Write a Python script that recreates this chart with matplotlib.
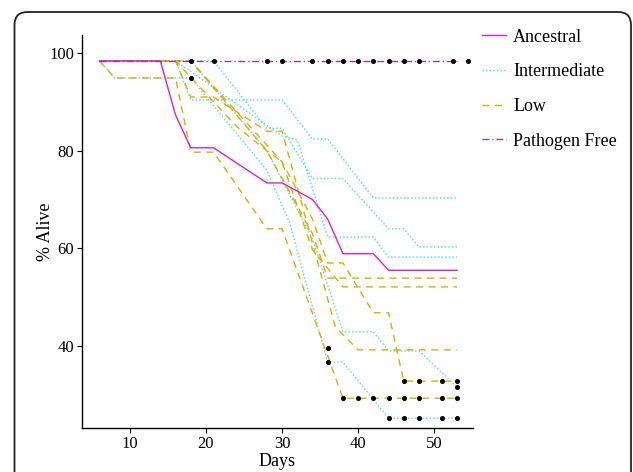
import numpy as np
import matplotlib
matplotlib.use("Agg")
import matplotlib.pyplot as plt
from matplotlib.patches import FancyBboxPatch
from matplotlib.lines import Line2D

plt.rcParams['font.family'] = ['Liberation Serif', 'DejaVu Serif']

# survival curves: (days, % alive)
anc_days = [6, 14, 16, 18, 21, 28, 30, 34, 36, 38, 42, 44, 53]
anc_vals = [98.4, 98.4, 87.3, 80.6, 80.6, 73.4, 73.4, 70.0, 66.0, 58.9, 58.9, 55.5, 55.5]

pf_days = [6, 53]
pf_vals = [98.4, 98.4]
pf_dot_days = [18, 21, 28, 30, 34, 36, 38, 40, 42, 44, 46, 48, 52.5, 54.5]
pf_dot_vals = [98.4] * 14

int_days = [
    [6, 16, 18, 30, 34, 36, 42, 53],
    [6, 21, 28, 30, 34, 38, 44, 46, 48, 53],
    [6, 16, 30, 32, 36, 42, 44, 53],
    [6, 18, 28, 34, 38, 42, 44, 48, 53],
    [6, 8, 18, 28, 31, 36, 38, 44, 53],
]
int_vals = [
    [98.4, 98.4, 90.4, 90.4, 82.4, 82.4, 70.3, 70.3],
    [98.4, 98.4, 84.6, 84.6, 74.3, 74.3, 64.0, 64.0, 60.3, 60.3],
    [98.4, 98.4, 83.0, 82.2, 62.3, 62.3, 58.2, 58.2],
    [98.4, 98.4, 80.0, 62.0, 42.9, 42.9, 39.0, 39.0, 31.6],
    [98.4, 94.9, 94.9, 76.0, 65.2, 36.7, 36.7, 25.2, 25.2],
]

low_days = [
    [6, 8, 16, 18, 21, 28, 30, 38, 53],
    [6, 18, 28, 34, 36, 53],
    [6, 16, 24, 28, 30, 34, 38, 53],
    [6, 16, 18, 21, 28, 30, 37, 40, 53],
    [6, 18, 24, 30, 34, 36, 38, 42, 44, 46, 53],
]
low_vals = [
    [98.4, 94.9, 94.9, 79.7, 79.7, 64.0, 64.0, 29.3, 29.3],
    [98.4, 98.4, 80.0, 63.0, 53.9, 53.9],
    [98.4, 98.4, 85.0, 80.0, 77.7, 59.7, 52.1, 52.1],
    [98.4, 98.4, 91.0, 91.0, 84.0, 84.0, 43.9, 39.2, 39.2],
    [98.4, 98.4, 88.0, 77.7, 66.0, 57.0, 57.0, 46.8, 46.8, 32.8, 32.8],
]

# censoring marks
dot_days = [18, 36, 36, 44, 46, 48, 51, 53, 53,
            38, 40, 42, 44, 46, 48, 51, 53,
            46, 48, 51, 53]
dot_vals = [94.9, 39.6, 36.7, 25.2, 25.2, 25.2, 25.2, 25.2, 31.6,
            29.3, 29.3, 29.3, 29.3, 29.3, 29.3, 29.3, 29.3,
            32.8, 32.8, 32.8, 32.8]

c_anc = '#E41EC0'
c_int = '#48E0C8'
c_low = '#E0AC00'
c_pf = '#9A3A9E'

fig = plt.figure(figsize=(6.33, 4.72), dpi=100)
ax = fig.add_axes([82/633, 1-428/472, (473-82)/633, (428-35)/472])

for d, v in zip(int_days, int_vals):
    ax.plot(d, v, color=c_int, lw=1.0, ls=(0, (1, 1.6)))
for d, v in zip(low_days, low_vals):
    ax.plot(d, v, color=c_low, lw=1.0, ls=(0, (5, 4)))
ax.plot(anc_days, anc_vals, color=c_anc, lw=1.0)
ax.plot(pf_days, pf_vals, color=c_pf, lw=1.0, ls=(0, (5, 2, 1, 2)))
ax.plot(pf_dot_days, pf_dot_vals, 'o', color='black', ms=2.6, clip_on=False)
ax.plot(dot_days, dot_vals, 'o', color='black', ms=2.6)

ax.set_xlim(3.7, 55.1)
ax.set_ylim(23.2, 103.7)
ax.set_xticks([10, 20, 30, 40, 50])
ax.set_yticks([40, 60, 80, 100])
for s in ['top', 'right']:
    ax.spines[s].set_visible(False)
for s in ['left', 'bottom']:
    ax.spines[s].set_linewidth(1.0)
ax.tick_params(length=3.5, width=0.8, labelsize=12, colors='black', pad=2)
ax.set_xlabel('Days', fontsize=13, labelpad=1)
ax.set_ylabel('% Alive', fontsize=13, labelpad=-3)

handles = [
    Line2D([], [], color=c_anc, lw=1.0),
    Line2D([], [], color=c_int, lw=1.0, ls=(0, (1, 1.6))),
    Line2D([], [], color=c_low, lw=1.0, ls=(0, (5, 4))),
    Line2D([], [], color=c_pf, lw=1.0, ls=(0, (5, 2, 1, 2))),
]
labels = ['Ancestral', 'Intermediate', 'Low', 'Pathogen Free']
fig.legend(handles, labels, loc='upper left', bbox_to_anchor=(469/633, 1-16/472),
           frameon=False, fontsize=13, handlelength=1.35, handletextpad=0.4,
           labelspacing=0.98, borderpad=0.2)

box = FancyBboxPatch((0.145, -1.0), 6.165, 5.6,
                     boxstyle='round,pad=0,rounding_size=0.13',
                     transform=fig.dpi_scale_trans, fill=False,
                     ec='#222222', lw=1.3)
fig.patches.append(box)

fig.savefig('out.png', dpi=100)
